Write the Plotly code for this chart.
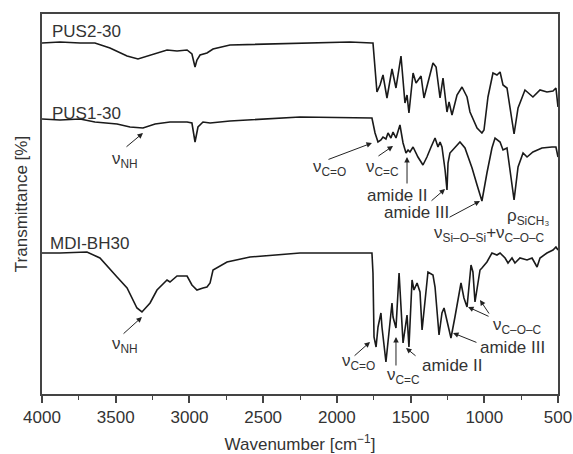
import plotly.graph_objects as go

# ---- data (wavenumber in cm^-1, transmittance in offset arbitrary units) ----
pus2_wn = [4000, 3878, 3742, 3641, 3539, 3423, 3349, 3267, 3152, 3084, 3016, 2983, 2962, 2949, 2928,
           2881, 2840, 2725, 2250, 1911, 1762, 1755, 1728, 1707, 1687, 1660, 1626, 1599, 1565, 1538,
           1524, 1511, 1483, 1463, 1429, 1409, 1348, 1327, 1300, 1280, 1253, 1239, 1219, 1185, 1151,
           1117, 1097, 1049, 1016, 1002, 975, 941, 914, 893, 873, 846, 798, 771, 724, 690, 670, 622,
           575, 534, 514, 500]
pus2_t = [351, 352, 351, 351, 346, 338, 335, 339, 344, 343, 344, 340, 327, 334, 339,
          341, 345, 349, 351, 352, 351, 351, 302, 309, 319, 296, 325, 306, 338, 291,
          299, 281, 321, 311, 318, 296, 331, 327, 296, 316, 282, 292, 279, 299, 307,
          297, 282, 266, 261, 264, 297, 321, 319, 322, 309, 306, 260, 286, 304, 299, 297, 304,
          302, 303, 306, 287]

pus1_wn = [4000, 3878, 3742, 3641, 3491, 3403, 3315, 3233, 3132, 3016, 2983, 2962, 2942, 2908, 2860,
           2725, 2250, 1762, 1741, 1721, 1701, 1687, 1667, 1653, 1633, 1619, 1599, 1572, 1551, 1531,
           1517, 1504, 1483, 1450, 1416, 1389, 1361, 1334, 1314, 1300, 1287, 1266, 1253, 1246, 1233,
           1199, 1165, 1131, 1083, 1049, 1016, 982, 948, 927, 893, 873, 846, 798, 771, 737, 710, 670,
           609, 541, 514, 500]
pus1_t = [275, 274, 275, 272, 270, 267, 266, 270, 272, 272, 271, 252, 267, 272, 271,
          273, 277, 276, 261, 252, 254, 257, 255, 261, 256, 262, 256, 269, 251, 241,
          244, 242, 247, 237, 229, 237, 247, 256, 247, 252, 247, 224, 204, 231, 241,
          247, 252, 246, 226, 209, 193, 221, 246, 256, 252, 244, 246, 194, 227, 241, 237, 242,
          246, 247, 247, 237]

mdi_wn = [4000, 3878, 3695, 3607, 3491, 3423, 3356, 3322, 3267, 3220, 3152, 3132, 3084, 3016, 2983,
          2949, 2908, 2881, 2860, 2840, 2745, 2589, 2250, 1762, 1755, 1748, 1734, 1721, 1701, 1694,
          1667, 1653, 1626, 1619, 1599, 1578, 1565, 1551, 1524, 1511, 1490, 1477, 1456, 1436, 1422,
          1402, 1382, 1348, 1334, 1307, 1287, 1273, 1226, 1199, 1158, 1138, 1117, 1090, 1077, 1063,
          1049, 1029, 1016, 982, 948, 914, 893, 859, 839, 812, 792, 758, 710, 676, 642, 622, 575,
          534, 514, 500]
mdi_t = [141, 141, 142, 136, 117, 106, 86, 82, 91, 104, 114, 112, 118, 118, 109,
         104, 106, 107, 111, 124, 132, 137, 141, 141, 121, 57, 47, 67, 81, 67,
         32, 54, 91, 77, 66, 121, 87, 51, 79, 47, 114, 104, 111, 102, 64,
         94, 122, 119, 107, 59, 81, 86, 56, 77, 111, 96, 87, 129, 122, 92,
         107, 124, 126, 132, 141, 139, 141, 136, 131, 136, 131, 136, 134, 136, 127, 136, 141,
         144, 147, 144]

series_names = ["PUS2-30", "PUS1-30", "MDI-BH30"]
x_ticks = [4000, 3500, 3000, 2500, 2000, 1500, 1000, 500]

FONT = "Liberation Sans, Arial, sans-serif"
TXT = "#333333"

fig = go.Figure()
for wn, t, name in zip([pus2_wn, pus1_wn, mdi_wn], [pus2_t, pus1_t, mdi_t], series_names):
    fig.add_trace(go.Scatter(x=wn, y=t, mode="lines", name=name,
                             line=dict(color="#1a1a1a", width=1.6), showlegend=False))

# series labels
labels = [("PUS2-30", 3946, 363), ("PUS1-30", 3946, 281), ("MDI-BH30", 3960, 151)]
for txt, x, y in labels:
    fig.add_annotation(x=x, y=y, text=txt, showarrow=False, xanchor="left", yanchor="middle",
                       font=dict(family=FONT, size=17, color=TXT))

# band labels (text only)
band_texts = [
    ("ν<sub>NH</sub>", 3539, 234),
    ("ν<sub>NH</sub>", 3539, 49),
    ("ν<sub>C=O</sub>", 2175, 226),
    ("ν<sub>C=C</sub>", 1816, 226),
    ("amide II", 1809, 199),
    ("amide III", 1694, 182),
    ("ν<sub>Si–O–Si</sub>+ν<sub>C–O–C</sub>", 1355, 160),
    ("ρ<sub>SiCH₃</sub>", 859, 177),
    ("ν<sub>C=O</sub>", 1979, 32),
    ("ν<sub>C=C</sub>", 1673, 18),
    ("amide II", 1436, 29),
    ("amide III", 1043, 47),
    ("ν<sub>C–O–C</sub>", 954, 68),
]
for txt, x, y in band_texts:
    fig.add_annotation(x=x, y=y, text=txt, showarrow=False, xanchor="left", yanchor="middle",
                       font=dict(family=FONT, size=17, color=TXT))

# arrows: (tail_x, tail_y, head_x, head_y)
arrows = [
    (3437, 246, 3315, 261),
    (3457, 59, 3322, 77),
    (2067, 234, 1762, 251),
    (1728, 237, 1619, 248),
    (1524, 209, 1524, 237),
    (1368, 192, 1266, 205),
    (1246, 176, 1029, 193),
    (1890, 37, 1775, 52),
    (1599, 27, 1599, 57),
    (1456, 37, 1531, 46),
    (1043, 51, 1212, 61),
    (961, 77, 1110, 87),
    (961, 79, 1029, 94),
]
for tx, ty, hx, hy in arrows:
    fig.add_annotation(x=hx, y=hy, ax=tx, ay=ty, axref="x", ayref="y", text="",
                       showarrow=True, arrowhead=2, arrowsize=1.1, arrowwidth=1,
                       arrowcolor="#222222", standoff=0, startstandoff=0)

fig.update_layout(
    width=573, height=454,
    margin=dict(l=42, r=15, t=14, b=60),
    paper_bgcolor="white", plot_bgcolor="white",
    font=dict(family=FONT, size=17, color=TXT),
)
fig.update_xaxes(
    automargin=False,
    range=[4000, 500], tickvals=x_ticks, ticktext=[str(v) for v in x_ticks],
    ticks="outside", ticklen=7, tickwidth=1.5, tickcolor="#444",
    ticklabelstandoff=0,
    minor=dict(dtick=250, ticks="outside", ticklen=4, tickwidth=1.2, tickcolor="#444", showgrid=False),
    showline=True, linecolor="#444", linewidth=1.5, mirror=True,
    showgrid=False, zeroline=False,
    tickfont=dict(family=FONT, size=17, color=TXT),
    title=dict(text="Wavenumber [cm<sup>−1</sup>]", font=dict(family=FONT, size=17, color=TXT), standoff=19),
)
fig.update_yaxes(
    automargin=False,
    range=[0, 380], showticklabels=False, ticks="",
    showline=True, linecolor="#444", linewidth=1.5, mirror=True,
    showgrid=False, zeroline=False,
    title=dict(text="Transmittance [%]", font=dict(family=FONT, size=17, color=TXT), standoff=8),
)

fig.write_html("out.html")
